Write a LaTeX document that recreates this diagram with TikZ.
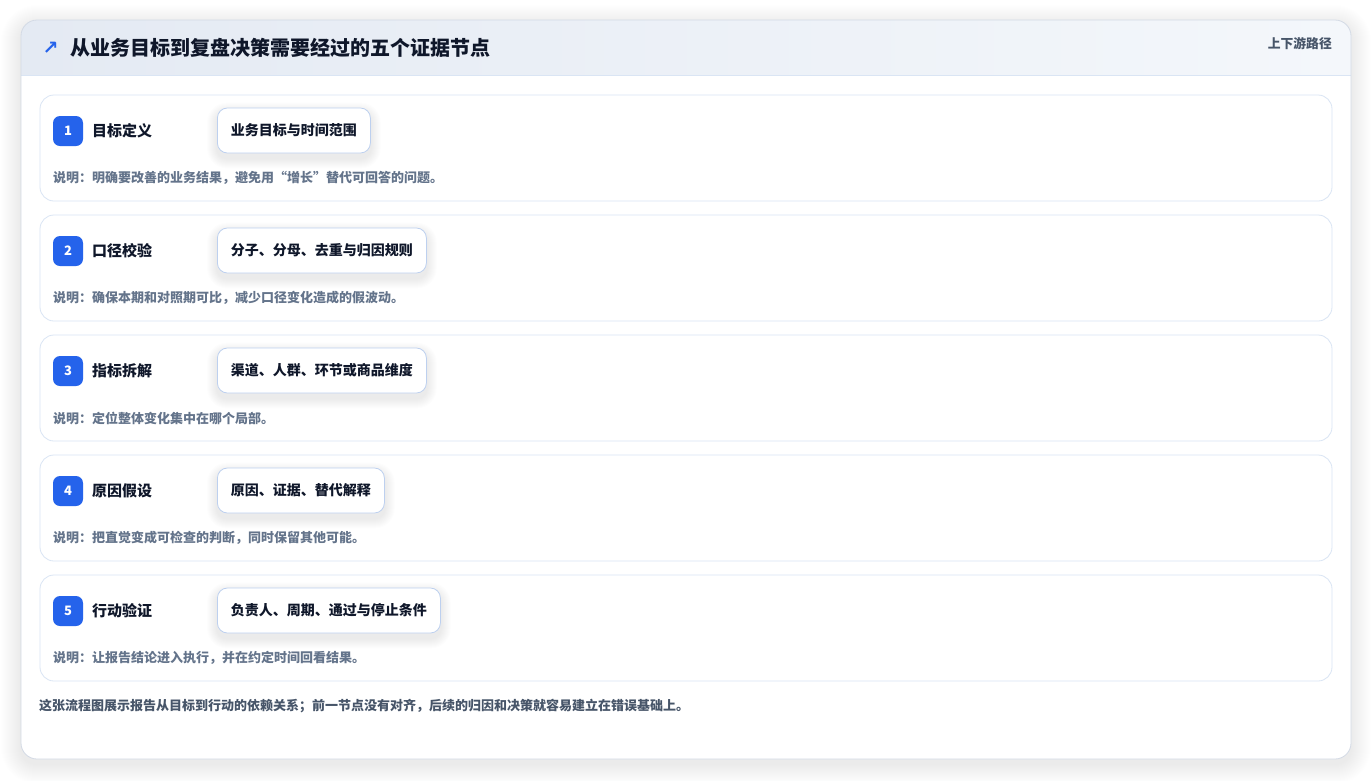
\documentclass[tikz,border=0pt]{standalone}
\usepackage{fontspec}
\setmainfont{Noto Sans CJK SC}
\newfontfamily\symfont{DejaVu Sans}
\definecolor{cardborder}{HTML}{D3DAE5}
\definecolor{headL}{HTML}{E4EAF3}
\definecolor{headR}{HTML}{F4F7FB}
\definecolor{rowborder}{HTML}{DAE5F4}
\definecolor{pillborder}{HTML}{BDD0EF}
\definecolor{badgeblue}{HTML}{2563EB}
\definecolor{ink}{HTML}{0F172A}
\definecolor{muted}{HTML}{64748B}
\definecolor{slate}{HTML}{475569}
\definecolor{shadowc}{HTML}{1E293B}
\pgfdeclarelayer{cardshadow}
\pgfdeclarelayer{rowlayer}
\pgfdeclarelayer{pillshadow}
\pgfsetlayers{cardshadow,rowlayer,pillshadow,main}
\tikzset{
  rowbox/.style={draw=rowborder, fill=white, rounded corners=14pt, line width=0.8pt},
  badgebox/.style={fill=badgeblue, rounded corners=7pt, minimum width=30pt, minimum height=30pt, inner sep=0pt, text=white, font=\bfseries\fontsize{13}{15}\selectfont},
  labeltext/.style={anchor=west, inner sep=0pt, text=ink, font=\bfseries\fontsize{15}{18}\selectfont},
  pillbox/.style={anchor=west, draw=pillborder, fill=white, rounded corners=10pt, minimum height=45pt, inner xsep=13.5pt, inner ysep=0pt, text=ink, font=\bfseries\fontsize{14}{16}\selectfont, line width=0.8pt},
  desctext/.style={anchor=west, inner sep=0pt, text=muted, font=\bfseries\fontsize{13}{15}\selectfont},
  softshade/.style={fill=shadowc, opacity=#1},
}
\begin{document}
\begin{tikzpicture}[x=1pt,y=-1pt]
\useasboundingbox (0,0) rectangle (1372,780);
\begin{pgfonlayer}{cardshadow}
\fill[white] (0,0) rectangle (1372,780);
\foreach \k in {1,...,20}{
  \pgfmathsetmacro{\rr}{16+\k}
  \fill[softshade=0.0045, rounded corners=\rr pt] (21-\k,20-\k+5) rectangle (1351+\k,759+\k+5);
}
% card
\fill[white, rounded corners=16pt] (21,20) rectangle (1351,759);
\begin{scope}
\clip[rounded corners=16pt] (21,20) rectangle (1351,759);
\shade[left color=headL, right color=headR] (21,20) rectangle (1351,75);
\end{scope}
\draw[rowborder, line width=0.8pt] (21,75) -- (1351,75);
\draw[cardborder, rounded corners=16pt, line width=0.8pt] (21,20) rectangle (1351,759);
\end{pgfonlayer}
% header texts
\node[anchor=center, inner sep=0pt, text=badgeblue, font=\symfont\bfseries\fontsize{19}{20}\selectfont] (icon) at (50.5,48) {↗};
\node[anchor=west, inner sep=0pt, text=ink, font=\bfseries\fontsize{20}{24}\selectfont] (title) at (70,48) {从业务目标到复盘决策需要经过的五个证据节点};
\node[anchor=east, inner sep=0pt, text=slate, font=\bfseries\fontsize{12.8}{15}\selectfont] (tag) at (1332,44) {上下游路径};
% rows
\foreach \i/\lab/\pill/\desc in {
  1/目标定义/业务目标与时间范围/说明：明确要改善的业务结果，避免用“增长”替代可回答的问题。,
  2/口径校验/分子、分母、去重与归因规则/说明：确保本期和对照期可比，减少口径变化造成的假波动。,
  3/指标拆解/渠道、人群、环节或商品维度/说明：定位整体变化集中在哪个局部。,
  4/原因假设/原因、证据、替代解释/说明：把直觉变成可检查的判断，同时保留其他可能。,
  5/行动验证/负责人、周期、通过与停止条件/说明：让报告结论进入执行，并在约定时间回看结果。}{
  \pgfmathsetmacro{\yy}{95+120*(\i-1)}
  \begin{pgfonlayer}{rowlayer}
  \draw[rowbox] (40,\yy) rectangle (1332,\yy+106);
  \end{pgfonlayer}
  \node[badgebox] (badge\i) at (68,\yy+36) {\i};
  \node[labeltext] (label\i) at (92,\yy+36) {\lab};
  \node[pillbox] (pill\i) at (217,\yy+35.5) {\pill};
  \node[desctext] (desc\i) at (53,\yy+83) {\desc};
  \begin{pgfonlayer}{pillshadow}
  \foreach \k in {1,...,10}{
    \pgfmathsetmacro{\rr}{10+\k}
    \fill[softshade=0.007, rounded corners=\rr pt] ([xshift=-\k pt, yshift=\k pt-5pt]pill\i.north west) rectangle ([xshift=\k pt, yshift=-\k pt-5pt]pill\i.south east);
  }
  \end{pgfonlayer}
}
\node[anchor=west, inner sep=0pt, text=slate, font=\bfseries\fontsize{13}{16}\selectfont] (footer) at (39,706) {这张流程图展示报告从目标到行动的依赖关系；前一节点没有对齐，后续的归因和决策就容易建立在错误基础上。};
\end{tikzpicture}
\end{document}
